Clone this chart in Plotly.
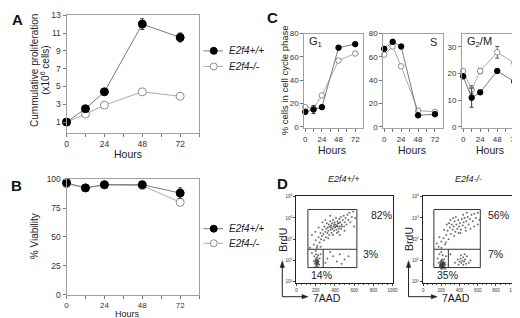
import plotly.graph_objects as go

# ---------------- data ----------------
hours = [0, 12, 24, 48, 72]

# Panel A: cumulative proliferation (x10^6 cells)
prolif_wt = [1.0, 2.5, 4.4, 12.0, 10.5]
prolif_wt_err = [0.1, 0.15, 0.2, 0.6, 0.5]
prolif_ko = [1.0, 1.9, 2.9, 4.4, 3.9]
prolif_ko_err = [0.05, 0.1, 0.1, 0.2, 0.2]

# Panel B: % viability
viab_wt = [97, 92.5, 95.3, 95.3, 88]
viab_wt_err = [1, 1, 1, 1, 4.5]
viab_ko = [96, 92.5, 95, 94.5, 80]
viab_ko_err = [1, 1, 1, 1, 2]

# Panel C: % cells in cell-cycle phase
g1_wt = [13, 15, 17, 68, 71]
g1_wt_err = [0.5, 3.5, 0.5, 0.5, 0.5]
g1_ko = [17, 16, 27, 57, 63]
g1_ko_err = [0.5, 2, 0.5, 0.5, 0.5]
s_wt = [67, 73, 69, 10, 11]
s_wt_err = [0.5, 0.5, 0.5, 0.5, 0.5]
s_ko = [62, 69, 52, 14, 13]
s_ko_err = [0.5, 0.5, 0.5, 0.5, 0.5]
g2m_wt = [19, 11, 13, 21, 17]
g2m_wt_err = [0.3, 3.6, 0.3, 0.3, 0.3]
g2m_ko = [21, 14, 21, 28, 24]
g2m_ko_err = [0.3, 1.5, 1.0, 2.2, 0.3]

# Panel D: flow cytometry events (7AAD, log10 BrdU)
d1_upper_7aad = [180, 200, 215, 230, 240, 250, 255, 265, 270, 280, 285, 290, 300, 305, 310, 315, 320, 325, 330, 335,
                 340, 345, 350, 355, 360, 365, 370, 375, 380, 385, 390, 395, 400, 405, 410, 415, 420, 425, 430, 435,
                 440, 445, 450, 455, 460, 465, 470, 480, 490, 495, 500, 510, 520, 530, 540, 550, 560, 575, 590, 610,
                 140, 160, 230, 270, 350, 300, 450, 500, 600, 380, 420, 330, 250, 195, 360, 410, 440, 390, 470, 430]
d1_upper_brdu = [1.75, 1.95, 1.7, 2.1, 1.85, 2.3, 2.0, 2.15, 2.45, 2.25, 1.95, 2.6, 2.35, 2.1, 2.5, 2.75, 2.3, 2.55, 2.4, 2.7,
                 2.2, 2.6, 2.85, 2.45, 2.65, 2.3, 2.75, 2.5, 2.9, 2.6, 2.4, 2.8, 2.55, 2.7, 3.0, 2.45, 2.65, 2.85, 2.6, 2.35,
                 2.75, 2.95, 2.6, 2.8, 3.05, 2.5, 2.7, 2.9, 3.1, 2.6, 2.8, 3.0, 2.7, 3.15, 2.9, 3.25, 2.8, 3.05, 3.3, 3.0,
                 1.6, 2.2, 2.55, 2.8, 3.1, 2.9, 2.2, 2.4, 2.6, 2.2, 2.3, 2.05, 1.65, 2.35, 2.55, 2.6, 2.5, 2.7, 2.6, 2.75]
d1_ll_7aad = [190, 200, 205, 210, 215, 220, 225, 200, 195, 210, 230, 215, 205, 185, 220, 240, 180, 235, 200, 210,
              225, 195, 212, 218, 207, 222, 202, 214, 160, 250]
d1_ll_brdu = [0.85, 0.95, 0.8, 1.0, 0.9, 1.05, 0.85, 1.1, 1.0, 0.75, 0.95, 1.15, 1.3, 1.2, 0.7, 1.1, 0.95, 0.8, 1.45, 1.6,
              1.25, 0.7, 0.88, 0.98, 1.02, 0.92, 0.9, 0.83, 1.35, 1.3]
d1_lr_7aad = [320, 380, 420, 450, 500, 350, 470, 300, 540]
d1_lr_brdu = [1.1, 1.2, 0.95, 1.3, 1.05, 1.4, 0.85, 0.9, 1.2]

d2_upper_7aad = [170, 200, 225, 240, 255, 270, 280, 295, 305, 315, 325, 335, 345, 355, 365, 375, 385, 395, 405, 415,
                 425, 435, 445, 455, 465, 475, 490, 500, 515, 530, 545, 560, 580, 600, 620, 260, 300, 360, 410, 470,
                 520, 230, 180, 150, 340, 390, 440, 560, 285, 330, 480, 600, 200, 250]
d2_upper_brdu = [1.65, 1.9, 2.05, 1.75, 2.2, 2.4, 2.0, 2.55, 2.25, 2.7, 2.45, 2.6, 2.85, 2.35, 2.7, 2.5, 2.9, 2.6, 2.75, 2.45,
                 2.95, 2.65, 2.8, 3.0, 2.55, 2.85, 3.05, 2.7, 2.95, 3.15, 2.85, 3.2, 3.0, 3.25, 2.9, 2.7, 2.9, 3.05, 2.3, 2.4,
                 2.5, 2.45, 2.1, 1.8, 2.15, 2.3, 3.15, 2.6, 2.75, 3.0, 3.25, 2.7, 1.6, 1.85]
d2_ll_7aad = [180, 190, 195, 200, 205, 210, 215, 220, 225, 230, 200, 210, 220, 190, 185, 235, 240, 205, 215, 225,
              198, 208, 212, 218, 202, 228, 195, 245, 170, 160, 250, 215, 180, 232, 206, 222, 214, 188, 240, 200]
d2_ll_brdu = [0.7, 0.85, 0.75, 0.9, 0.8, 0.7, 0.85, 0.95, 0.75, 0.85, 1.0, 1.05, 0.65, 0.95, 0.8, 0.7, 0.9, 0.6, 0.75, 0.9,
              0.82, 0.78, 0.88, 0.8, 0.72, 0.82, 0.65, 0.8, 0.9, 1.1, 1.2, 1.25, 1.3, 1.05, 0.92, 0.72, 0.68, 0.75, 0.62, 1.4]
d2_lr_7aad = [380, 400, 410, 420, 430, 440, 450, 460, 470, 480, 350, 520, 300, 440, 415, 455, 500, 390]
d2_lr_brdu = [1.05, 0.95, 1.1, 0.9, 1.0, 1.15, 0.95, 1.05, 0.85, 1.2, 0.9, 1.0, 1.3, 0.8, 1.25, 1.3, 0.9, 0.8]

# gates (7AAD, log10 BrdU)
gate_x = [118, 628, 277]
gate_y = [0.67, 1.53, 3.4]
d1_pct = ["82%", "3%", "14%"]
d2_pct = ["56%", "7%", "35%"]

W, H = 520, 318
FONT = "Liberation Sans, Arial, sans-serif"


def px(x):
    return x / W


def py(y):
    return 1 - y / H


fig = go.Figure()

WT_LINE = "#7a7a7a"
KO_LINE = "#ababab"


def add_pair(xa, ya, wt, wt_err, ko, ko_err, msize):
    fig.add_trace(go.Scatter(x=hours, y=ko, xaxis=xa, yaxis=ya, mode="lines+markers", cliponaxis=False,
                             line=dict(color=KO_LINE, width=1),
                             marker=dict(symbol="circle", size=msize, color="white", line=dict(color="#8c8c8c", width=1)),
                             error_y=dict(type="data", array=ko_err, color="#555", thickness=1, width=2),
                             showlegend=False))
    fig.add_trace(go.Scatter(x=hours, y=wt, xaxis=xa, yaxis=ya, mode="lines+markers", cliponaxis=False,
                             line=dict(color=WT_LINE, width=1),
                             marker=dict(symbol="circle", size=msize, color="black", line=dict(color="black", width=1)),
                             error_y=dict(type="data", array=wt_err, color="#333", thickness=1, width=2),
                             showlegend=False))


add_pair("x", "y", prolif_wt, prolif_wt_err, prolif_ko, prolif_ko_err, 8)
add_pair("x2", "y2", viab_wt, viab_wt_err, viab_ko, viab_ko_err, 8)
add_pair("x3", "y3", g1_wt, g1_wt_err, g1_ko, g1_ko_err, 5.5)
add_pair("x4", "y4", s_wt, s_wt_err, s_ko, s_ko_err, 5.5)
add_pair("x5", "y5", g2m_wt, g2m_wt_err, g2m_ko, g2m_ko_err, 5.5)


def add_flow(xa, ya, groups):
    for xs, ys in groups:
        fig.add_trace(go.Scatter(x=xs, y=[10 ** v for v in ys], xaxis=xa, yaxis=ya, mode="markers",
                                 marker=dict(size=2, color="#333", opacity=0.7), showlegend=False,
                                 hoverinfo="skip"))
    gx0, gx1, gxm = gate_x
    gy0, gym, gy1 = [10 ** v for v in gate_y]
    fig.add_trace(go.Scatter(x=[gx0, gx1, gx1, gx0, gx0, None, gx0, gx1, None, gxm, gxm],
                             y=[gy0, gy0, gy1, gy1, gy0, None, gym, gym, None, gy0, gym],
                             xaxis=xa, yaxis=ya, mode="lines", line=dict(color="#333", width=1),
                             showlegend=False, hoverinfo="skip"))


add_flow("x6", "y6", [(d1_upper_7aad, d1_upper_brdu), (d1_ll_7aad, d1_ll_brdu), (d1_lr_7aad, d1_lr_brdu)])
add_flow("x7", "y7", [(d2_upper_7aad, d2_upper_brdu), (d2_ll_7aad, d2_ll_brdu), (d2_lr_7aad, d2_lr_brdu)])

AXC = "#a0a0a0"


def axis(domain, rng, anchor, dtick, minor_dtick=None, fs=8.5):
    d = dict(domain=domain, range=rng, anchor=anchor, tickmode="linear", tick0=0, dtick=dtick,
             showline=True, linecolor=AXC, linewidth=1, mirror=True, ticks="outside", ticklen=3,
             tickcolor="#777", tickwidth=1, tickfont=dict(size=fs, color="#333", family=FONT),
             showgrid=False, zeroline=False)
    if minor_dtick:
        d["minor"] = dict(tick0=0, dtick=minor_dtick, ticks="outside", ticklen=3, tickcolor="#777", tickwidth=1)
    return d


A_x = [px(57.3), px(191.7)]
A_y = [py(124.3), py(3.3)]
B_y = [py(291), py(171.5)]
C_y = [py(119.3), py(22.3)]
D_y = [py(279), py(189)]

yA = axis(A_y, [-0.2, 13], "x", 2)
yA["tick0"] = 1

fig.update_layout(
    xaxis=axis(A_x, [0, 84], "y", 24, 12),
    yaxis=yA,
    xaxis2=axis(A_x, [0, 84], "y2", 24, 12, 8),
    yaxis2=axis(B_y, [0, 100.5], "x2", 25),
    xaxis3=axis([px(298.3), px(357.5)], [-1.4, 82.8], "y3", 24, 12, 8),
    yaxis3=axis(C_y, [-0.8, 80], "x3", 20, None, 8),
    xaxis4=axis([px(378.3), px(438.5)], [-1.4, 82.8], "y4", 24, 12, 8),
    yaxis4=axis(C_y, [-0.8, 80], "x4", 20, None, 8),
    xaxis5=axis([px(458.3), px(519)], [-1.4, 82.8], "y5", 24, 12, 8),
    yaxis5=axis(C_y, [-0.35, 35], "x5", 10, None, 8),
)

for xa, ya, dom in (("xaxis6", "yaxis6", [px(290), px(388.3)]), ("xaxis7", "yaxis7", [px(418.3), px(511.5)])):
    fig.layout[xa] = dict(domain=dom, range=[-5, 1005], anchor=ya.replace("axis", ""),
                          tickmode="linear", tick0=0, dtick=200, ticks="outside", ticklen=2,
                          tickfont=dict(size=4.5, color="#333", family=FONT), showline=True, linecolor="#222",
                          linewidth=1, mirror=True, showgrid=False, zeroline=False,
                          minor=dict(dtick=50, ticks="outside", ticklen=1, tickcolor="#555"))
    fig.layout[ya] = dict(domain=D_y, type="log", range=[-0.06, 4.05], anchor=xa.replace("axis", ""),
                          tickvals=[1, 10, 100, 1000, 10000],
                          ticktext=["10<sup>0</sup>", "10<sup>1</sup>", "10<sup>2</sup>", "10<sup>3</sup>", "10<sup>4</sup>"],
                          ticks="outside", ticklen=2, tickfont=dict(size=4.5, color="#333", family=FONT),
                          showline=True, linecolor="#222", linewidth=1, mirror=True, showgrid=False, zeroline=False)

ann = []
shapes = []


def text(x, y, s, size=10, xanchor="center", angle=0, bold=False, italic=False, color="#222"):
    t = s
    if italic:
        t = "<i>" + t + "</i>"
    if bold:
        t = "<b>" + t + "</b>"
    ann.append(dict(x=px(x), y=py(y), xref="paper", yref="paper", text=t, showarrow=False,
                    xanchor=xanchor, yanchor="middle", textangle=angle,
                    font=dict(size=size, color=color, family=FONT)))


# panel letters
text(8, 8, "A", 15, bold=True, color="#111")
text(7, 179, "B", 15, bold=True, color="#111")
text(266, 6, "C", 15, bold=True, color="#111")
text(276, 177, "D", 15, bold=True, color="#111")

# axis titles
text(120, 146, "Hours", 10.5)
text(119, 310.5, "Hours", 9)
text(25, 60, "Cummulative proliferation", 10, angle=-90)
text(36, 60, "(x10<sup>6</sup> cells)", 10, angle=-90)
text(25, 231, "% Viability", 10, angle=-90)
text(278, 70, "% cells in cell cycle phase", 9.5, angle=-90)
for cx in (326, 407, 487):
    text(cx, 142, "Hours", 10.5)

# C panel labels
text(301, 31, "G<sub>1</sub>", 11, xanchor="left")
text(435, 31, "S", 11, xanchor="right")
text(461, 31, "G<sub>2</sub>/M", 11, xanchor="left")

# legends (manual)
for ly in ((40, 56), (223, 238)):
    for i, yy in enumerate(ly):
        wt = i == 0
        shapes.append(dict(type="line", xref="paper", yref="paper", x0=px(196), x1=px(216), y0=py(yy), y1=py(yy),
                           line=dict(color=WT_LINE if wt else KO_LINE, width=1)))
        shapes.append(dict(type="circle", xref="paper", yref="paper", xsizemode="pixel", ysizemode="pixel",
                           xanchor=px(206.5), yanchor=py(yy), x0=-3.5, x1=3.5, y0=-3.5, y1=3.5,
                           fillcolor="black" if wt else "white",
                           line=dict(color="black" if wt else "#8c8c8c", width=1)))
        text(220, yy, "E2f4+/+" if wt else "E2f4-/-", 10, xanchor="left", italic=True)

# D titles and labels
text(339, 172, "E2f4+/+", 9, italic=True)
text(465, 172, "E2f4-/-", 9, italic=True)
for (x1, x2, x3), pcts in (((364, 356, 303), d1_pct), ((482, 482, 431), d2_pct)):
    text(x1, 209, pcts[0], 10.5, xanchor="left")
    text(x2, 249, pcts[1], 10.5, xanchor="left")
    text(x3, 271, pcts[2], 10.5, xanchor="left")


def ptp(x, y):
    return "%.5f %.5f" % (px(x), py(y))


for cx, aad_x, tipx in ((276, 305, 302), (404, 436, 433)):
    text(cx + 1, 234, "BrdU", 10.5, angle=-90)
    text(aad_x, 294, "7AAD", 10.5, xanchor="left")
    shapes.append(dict(type="line", xref="paper", yref="paper", x0=px(cx), x1=px(cx), y0=py(293), y1=py(262),
                       line=dict(color="#222", width=1)))
    shapes.append(dict(type="path", xref="paper", yref="paper",
                       path="M " + ptp(cx - 2.2, 263) + " L " + ptp(cx + 2.2, 263) + " L " + ptp(cx, 256) + " Z",
                       fillcolor="#222", line=dict(color="#222", width=0.5)))
    shapes.append(dict(type="line", xref="paper", yref="paper", x0=px(cx), x1=px(tipx - 5), y0=py(293), y1=py(293),
                       line=dict(color="#222", width=1)))
    shapes.append(dict(type="path", xref="paper", yref="paper",
                       path="M " + ptp(tipx - 6, 290.8) + " L " + ptp(tipx - 6, 295.2) + " L " + ptp(tipx, 293) + " Z",
                       fillcolor="#222", line=dict(color="#222", width=0.5)))

fig.update_layout(width=W, height=H, autosize=False, margin=dict(l=0, r=0, t=0, b=0),
                  paper_bgcolor="white", plot_bgcolor="white", showlegend=False,
                  font=dict(family=FONT, color="#222"), annotations=ann, shapes=shapes)

fig.write_html("out.html")
